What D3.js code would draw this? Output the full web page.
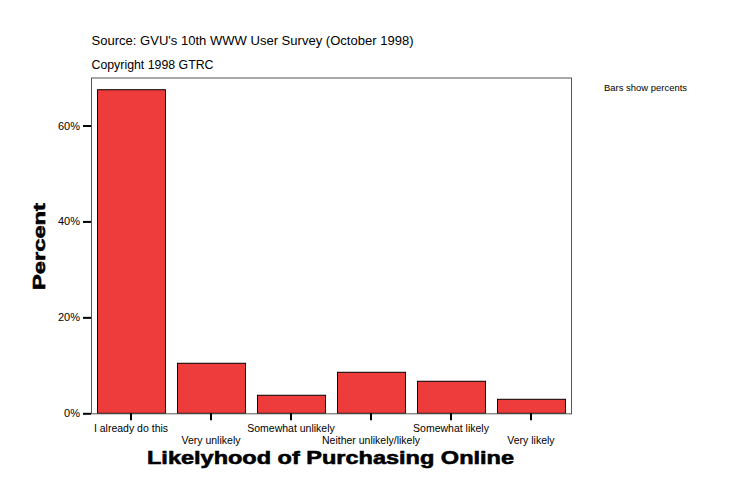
<!DOCTYPE html>
<html><head><meta charset="utf-8">
<script src="https://cdn.jsdelivr.net/npm/d3@7"></script>
<style>
body{margin:0;background:#fff;}
text{font-family:"Liberation Sans",Arial,sans-serif;}
</style></head>
<body>
<svg id="chart" width="734" height="502"></svg>
<script>
const categories = ["I already do this","Very unlikely","Somewhat unlikely","Neither unlikely/likely","Somewhat likely","Very likely"];
const percents = [67.45, 10.43, 3.76, 8.55, 6.68, 2.92];
const yTicks = [0, 20, 40, 60];
const yTickLabels = ["0%","20%","40%","60%"];

const svg = d3.select("#chart");
const m = {left:91, right:571, top:77.5, bottom:413.3};

const x = d3.scaleBand().domain(categories).range([m.left, m.right]).paddingInner(0.15).paddingOuter(0.075);
const y = d3.scaleLinear().domain([0, 70]).range([m.bottom, m.top]);

svg.append("rect").attr("width",734).attr("height",502).attr("fill","#fff");

// bars
svg.selectAll("rect.bar").data(categories).enter().append("rect")
  .attr("class","bar")
  .attr("x", d => x(d)+0.5)
  .attr("y", (d,i) => y(percents[i]))
  .attr("width", x.bandwidth())
  .attr("height", (d,i) => y(0) - y(percents[i]))
  .attr("fill","#EE3B3B").attr("stroke","#000").attr("stroke-width",1);

// frame
svg.append("rect").attr("x",m.left+0.5).attr("y",m.top+0.5)
  .attr("width",m.right-m.left).attr("height",m.bottom-m.top)
  .attr("fill","none").attr("stroke","#555").attr("stroke-width",1);

// y axis
const ya = d3.axisLeft(y).tickValues(yTicks).tickFormat((d,i)=>yTickLabels[i]).tickSize(8).tickPadding(3);
const gy = svg.append("g").attr("transform",`translate(${m.left},0)`).call(ya);
gy.select(".domain").remove();
gy.selectAll(".tick line").attr("stroke","#000").style("stroke-width","2px");
gy.selectAll(".tick text").attr("font-size",11).attr("font-family","Liberation Sans, Arial, sans-serif").attr("fill","#000");

// x axis
const xa = d3.axisBottom(x).tickSize(7).tickFormat("");
const gx = svg.append("g").attr("transform",`translate(0,${m.bottom})`).call(xa);
gx.select(".domain").remove();
gx.selectAll(".tick line").attr("stroke","#000").style("stroke-width","2px");
svg.selectAll("text.xl").data(categories).enter().append("text")
  .attr("class","xl")
  .attr("x", d => x(d) + x.bandwidth()/2)
  .attr("y", (d,i) => i%2===0 ? 432 : 443.5)
  .attr("text-anchor","middle").attr("font-size",10.5).attr("fill","#000")
  .text(d=>d);

// titles
svg.append("text").attr("x",91.5).attr("y",45).attr("font-size",13).attr("textLength",322).attr("lengthAdjust","spacingAndGlyphs").text("Source: GVU's 10th WWW User Survey (October 1998)");
svg.append("text").attr("x",91.5).attr("y",69).attr("font-size",13).attr("textLength",122).attr("lengthAdjust","spacingAndGlyphs").text("Copyright 1998 GTRC");
svg.append("text").attr("x",604).attr("y",91).attr("font-size",9).attr("textLength",83).attr("lengthAdjust","spacingAndGlyphs").text("Bars show percents");

svg.append("text").attr("x",330.5).attr("y",464).attr("text-anchor","middle")
  .attr("font-family","DejaVu Sans, sans-serif").attr("font-weight","bold").attr("font-size",19)
  .attr("stroke","#000").attr("stroke-width",0.6)
  .attr("textLength",367).attr("lengthAdjust","spacingAndGlyphs")
  .text("Likelyhood of Purchasing Online");

svg.append("text").attr("transform","translate(45,246.5) rotate(-90)").attr("text-anchor","middle")
  .attr("font-family","DejaVu Sans, sans-serif").attr("font-weight","bold").attr("font-size",17)
  .attr("stroke","#000").attr("stroke-width",0.6)
  .attr("textLength",87).attr("lengthAdjust","spacingAndGlyphs")
  .text("Percent");
</script>
</body></html>
